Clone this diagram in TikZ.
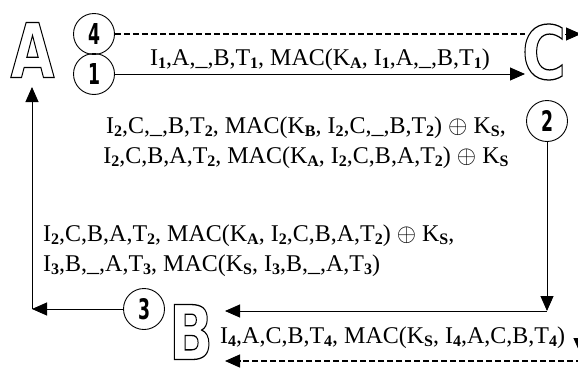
\documentclass[tikz,border=0pt]{standalone}
\usepackage{fontspec}
\setmainfont{Liberation Serif}
\newfontfamily\letfont{DejaVu Sans}
\usetikzlibrary{arrows.meta}
\newcommand\sbs[1]{\raisebox{-0.35ex}{\fontsize{16}{16}\selectfont\bfseries #1}}
\newcommand\biglet[1]{\resizebox{44pt}{55pt}{\letfont\bfseries\special{pdf:literal direct 1 Tr 0.17 w}#1\special{pdf:literal direct 0 Tr 0.4 w}}}
\newcommand\cnum[1]{\resizebox{12pt}{21pt}{\letfont\bfseries #1}}
\tikzset{
  bigletter/.style={inner sep=0pt},
  numcircle/.style={circle, draw, line width=0.9pt, minimum size=41pt, inner sep=0pt},
  msg/.style={inner sep=0pt, font=\fontsize{24}{30}\selectfont},
  arr/.style={line width=0.9pt, -{Triangle[length=15pt,width=13pt]}},
  dline/.style={line width=1.3pt, dash pattern=on 6pt off 3pt},
}
\begin{document}
\begin{tikzpicture}[x=1pt,y=-1pt]
\useasboundingbox (0,0) rectangle (578,367);
% parties
\node[bigletter] (A) at (32.5,50) {\biglet{A}};
\node[bigletter] (C) at (544,52) {\biglet{C}};
\node[bigletter] (B) at (191,332) {\biglet{B}};
% step circles
\node[numcircle] (c4) at (94,34) {\cnum{4}};
\node[numcircle] (c1) at (94,74) {\cnum{1}};
\node[numcircle] (c2) at (547,121) {\cnum{2}};
\node[numcircle] (c3) at (144,309) {\cnum{3}};
% coordinates
\coordinate (cout) at (581,34);
\coordinate (cin) at (525,34);
\coordinate (cin1) at (525,72);
\coordinate (cex) at (565,34);
\coordinate (r2) at (547,311);
\coordinate (bin) at (225,311);
\coordinate (l3) at (32,309);
\coordinate (ain) at (32,87);
\coordinate (brs) at (582,361);
\coordinate (bdin) at (225,361);
\coordinate (brtop) at (580,330);
\coordinate (brtip) at (580,353);
% connectors
\draw[dline] (c4.east) -- (cin);
\draw[arr] (cex) -- (cout);
\draw[arr] (c1.east) -- (c1.east -| cin1);
\draw[arr] (c2.south) -- (r2);
\draw[arr] (r2) -- (bin);
\draw[arr] (c3.west) -- (l3);
\draw[arr] (l3) -- (ain);
\draw[dline, -{Triangle[length=15pt,width=13pt]}] (brs) -- (bdin);
\draw[arr] (brtop) -- (brtip);
% messages
\node[msg, anchor=base] (t1) at (320,65) {I\sbs1,A,\_,B,T\sbs1, MAC(K\sbs A, I\sbs1,A,\_,B,T\sbs1)};
\node[msg, align=center, anchor=base] (t2) at (306,163) {I\sbs2,C,\_,B,T\sbs2, MAC(K\sbs B, I\sbs2,C,\_,B,T\sbs2) $\oplus$ K\sbs S,\\ I\sbs2,C,B,A,T\sbs2, MAC(K\sbs A, I\sbs2,C,B,A,T\sbs2) $\oplus$ K\sbs S};
\node[msg, align=left, anchor=base west] (t3) at (43,271) {I\sbs2,C,B,A,T\sbs2, MAC(K\sbs A, I\sbs2,C,B,A,T\sbs2) $\oplus$ K\sbs S,\\ I\sbs3,B,\_,A,T\sbs3, MAC(K\sbs S, I\sbs3,B,\_,A,T\sbs3)};
\node[msg, anchor=base west] (t4) at (220,343) {I\sbs4,A,C,B,T\sbs4, MAC(K\sbs S, I\sbs4,A,C,B,T\sbs4)};
\end{tikzpicture}
\end{document}
